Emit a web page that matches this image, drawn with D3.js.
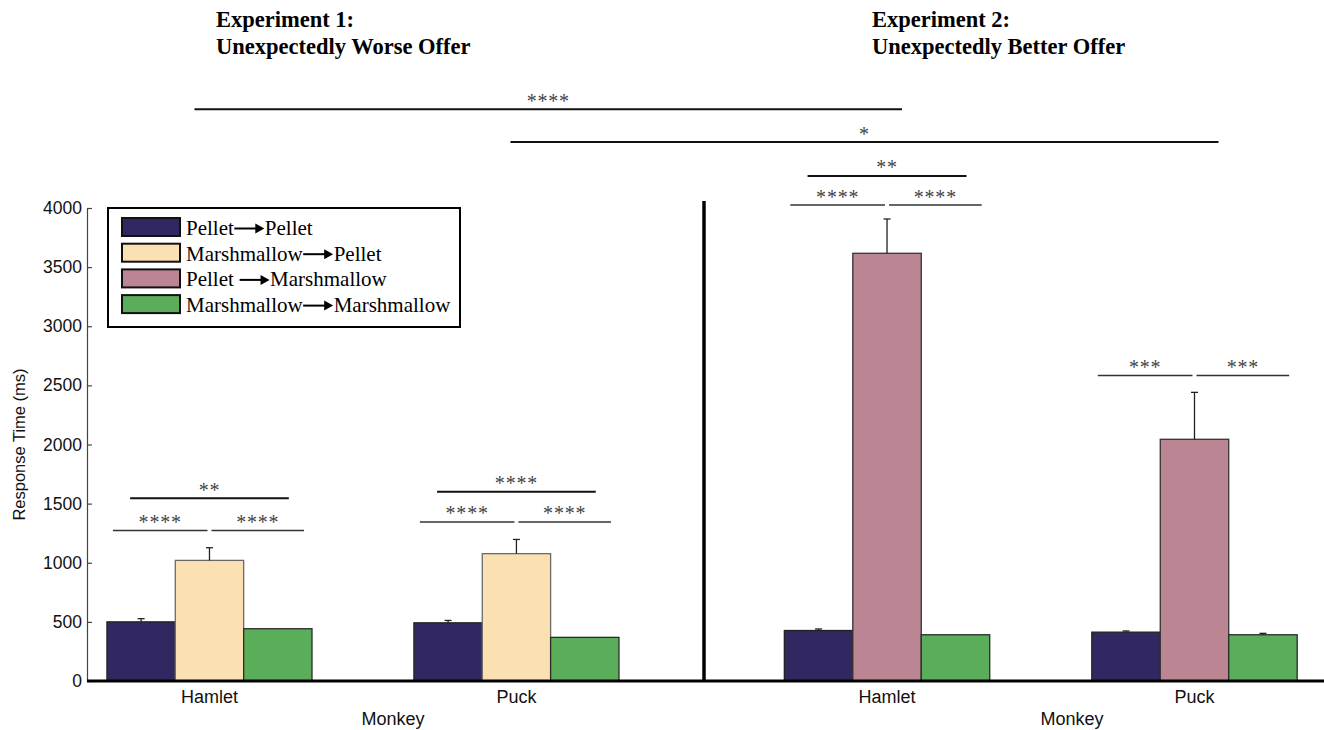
<!DOCTYPE html>
<html>
<head>
<meta charset="utf-8">
<script src="https://cdn.jsdelivr.net/npm/d3@7"></script>
<style>
  html, body { margin: 0; padding: 0; background: #fff; }
  svg { display: block; }
</style>
</head>
<body>
<svg id="chart" width="1324" height="730"></svg>
<script>
// ---------------- DATA ----------------
const monkeys = ["Hamlet", "Puck"];
const exp1Conditions = ["Pellet→Pellet", "Marshmallow→Pellet", "Marshmallow→Marshmallow"];
const exp2Conditions = ["Pellet→Pellet", "Pellet→Marshmallow", "Marshmallow→Marshmallow"];
// mean response time (ms), rows = monkeys, columns = conditions
const exp1Means = [[500, 1020, 442], [492, 1077, 369]];
const exp1SE    = [[27, 107, 0], [20, 120, 0]];
const exp2Means = [[427, 3617, 391], [413, 2044, 391]];
const exp2SE    = [[13, 290, 0], [10, 397, 12]];
const yTicks = [0, 500, 1000, 1500, 2000, 2500, 3000, 3500, 4000];
const legendLabels = [["Pellet", "Pellet"], ["Marshmallow", "Pellet"], ["Pellet ", "Marshmallow"], ["Marshmallow", "Marshmallow"]];
const legendConditions = ["Pellet→Pellet", "Marshmallow→Pellet", "Pellet→Marshmallow", "Marshmallow→Marshmallow"];
const expTitles = [["Experiment 1:", "Unexpectedly Worse Offer"], ["Experiment 2:", "Unexpectedly Better Offer"]];
const xAxisTitle = "Monkey";
const yAxisTitle = "Response Time (ms)";
// significance brackets within a monkey: experiment, monkey, bar a, bar b, level (ms), label
const sigWithin = [
  [0, "Hamlet", 0, 1, 1273, "****"], [0, "Hamlet", 1, 2, 1273, "****"], [0, "Hamlet", 0, 2, 1545, "**"],
  [0, "Puck", 0, 1, 1345, "****"], [0, "Puck", 1, 2, 1345, "****"], [0, "Puck", 0, 2, 1601, "****"],
  [1, "Hamlet", 0, 1, 4025, "****"], [1, "Hamlet", 1, 2, 4025, "****"], [1, "Hamlet", 0, 2, 4271, "**"],
  [1, "Puck", 0, 1, 2583, "***"], [1, "Puck", 1, 2, 2583, "***"]
];
// significance brackets across experiments (same monkey, middle bar): monkey, level, label
const sigAcross = [["Hamlet", 4835, "****"], ["Puck", 4558, "*"]];

// ---------------- STYLE / LAYOUT ----------------
const colors = {
  "Pellet→Pellet": "#312861",
  "Marshmallow→Pellet": "#fbe0b1",
  "Pellet→Marshmallow": "#bc8593",
  "Marshmallow→Marshmallow": "#5aae5a"
};
const strokes = {
  "Pellet→Pellet": "#222",
  "Marshmallow→Pellet": "#6a6a6a",
  "Pellet→Marshmallow": "#333",
  "Marshmallow→Marshmallow": "#2a2a2a"
};
const SANS = "'Liberation Sans', Arial, sans-serif";
const SERIF = "'Liberation Serif', 'Times New Roman', serif";

const svg = d3.select("#chart");
const y = d3.scaleLinear().domain([0, 4000]).range([681, 208]);

const panels = [
  { conds: exp1Conditions, means: exp1Means, se: exp1SE, range: [87, 704], align: 0.19, titleX: 216, monkeyX: 393 },
  { conds: exp2Conditions, means: exp2Means, se: exp2SE, range: [704, 1322], align: 0.764, titleX: 872, monkeyX: 1072 }
];
panels.forEach(p => {
  p.x0 = d3.scaleBand().domain(monkeys).range(p.range).paddingInner(0.332).paddingOuter(0.171).align(p.align);
  p.x1 = d3.scaleBand().domain(d3.range(p.conds.length)).range([0, p.x0.bandwidth()]);
  p.cx = (m, i) => p.x0(m) + p.x1(i) + p.x1.bandwidth() / 2;
  p.left = (m, i) => p.x0(m) + p.x1(i);
  p.right = (m, i) => p.x0(m) + p.x1(i) + p.x1.bandwidth();
});

// ---------------- Y AXIS ----------------
const yAxis = d3.axisLeft(y).tickValues(yTicks).tickFormat(d3.format("d"))
  .tickSizeInner(-5).tickSizeOuter(0).tickPadding(5);
const gy = svg.append("g").attr("transform", "translate(87,0)").call(yAxis);
gy.select(".domain").attr("stroke", "#444").attr("stroke-width", 1.2);
gy.selectAll(".tick line").attr("stroke", "#444").attr("stroke-width", 1.2);
gy.selectAll(".tick text").attr("font-family", SANS).attr("font-size", 17.5).attr("fill", "#111");

svg.append("text")
  .attr("transform", "translate(25,444.5) rotate(-90)")
  .attr("text-anchor", "middle")
  .attr("font-family", SANS).attr("font-size", 16.5).attr("fill", "#111")
  .text(yAxisTitle);

// ---------------- BARS ----------------
panels.forEach((p, pi) => {
  monkeys.forEach((m, mi) => {
    const g = svg.append("g");
    g.selectAll("rect").data(p.conds).join("rect")
      .attr("x", (c, i) => p.left(m, i))
      .attr("y", (c, i) => y(p.means[mi][i]))
      .attr("width", p.x1.bandwidth())
      .attr("height", (c, i) => y(0) - y(p.means[mi][i]))
      .attr("fill", c => colors[c])
      .attr("stroke", c => strokes[c])
      .attr("stroke-width", 1.3);
    // error bars (upper only)
    p.conds.forEach((c, i) => {
      const v = p.means[mi][i], e = p.se[mi][i];
      if (e <= 0) return;
      const cx = p.cx(m, i);
      g.append("line").attr("x1", cx).attr("x2", cx).attr("y1", y(v)).attr("y2", y(v + e))
        .attr("stroke", "#222").attr("stroke-width", 1.3);
      g.append("line").attr("x1", cx - 3.5).attr("x2", cx + 3.5).attr("y1", y(v + e)).attr("y2", y(v + e))
        .attr("stroke", "#222").attr("stroke-width", 1.3);
    });
    // x tick label
    svg.append("text")
      .attr("x", p.x0(m) + p.x0.bandwidth() / 2).attr("y", 703)
      .attr("text-anchor", "middle")
      .attr("font-family", SANS).attr("font-size", 18).attr("fill", "#111")
      .text(m);
  });
  svg.append("text")
    .attr("x", p.monkeyX).attr("y", 725)
    .attr("text-anchor", "middle")
    .attr("font-family", SANS).attr("font-size", 18).attr("fill", "#111")
    .text(xAxisTitle);
  // experiment titles
  const t = svg.append("text").attr("font-family", SERIF).attr("font-size", 22.5)
    .attr("font-weight", "bold").attr("fill", "#000");
  t.append("tspan").attr("x", p.titleX).attr("y", 27).text(expTitles[pi][0]);
  t.append("tspan").attr("x", p.titleX).attr("y", 54).text(expTitles[pi][1]);
});

// baseline & divider
svg.append("line").attr("x1", 87).attr("x2", 1324).attr("y1", y(0)).attr("y2", y(0))
  .attr("stroke", "#000").attr("stroke-width", 3);
svg.append("line").attr("x1", 704).attr("x2", 704).attr("y1", 201).attr("y2", y(0))
  .attr("stroke", "#000").attr("stroke-width", 3.5);

// ---------------- SIGNIFICANCE ----------------
function sigMark(x1, x2, level, label, w, color) {
  const ly = y(level);
  svg.append("line").attr("x1", x1).attr("x2", x2).attr("y1", ly).attr("y2", ly)
    .attr("stroke", color).attr("stroke-width", w);
  svg.append("text").attr("x", (x1 + x2) / 2).attr("y", ly - 1.5)
    .attr("text-anchor", "middle")
    .attr("font-family", SERIF).attr("font-size", 20).attr("fill", "#444")
    .attr("letter-spacing", 0.8)
    .text(label);
}
sigWithin.forEach(([e, m, a, b, level, label]) => {
  const p = panels[e];
  let x1, x2, w = 1.5, col = "#333";
  if (b - a === 2) { x1 = p.cx(m, a) - 11; x2 = p.cx(m, b) + 11; w = 2; col = "#111"; }
  else if (a === 0) { x1 = p.left(m, 0) + 6; x2 = p.cx(m, 1) - 2; }
  else { x1 = p.cx(m, 1) + 2; x2 = p.right(m, 2) - 8; }
  sigMark(x1, x2, level, label, w, col);
});
const acrossPad = { "Hamlet": [-15, 15], "Puck": [-6, 24] };
sigAcross.forEach(([m, level, label]) => {
  const x1 = panels[0].cx(m, 1) + acrossPad[m][0];
  const x2 = panels[1].cx(m, 1) + acrossPad[m][1];
  sigMark(x1, x2, level, label, 1.8, "#111");
});

// ---------------- LEGEND ----------------
const lg = svg.append("g").attr("transform", "translate(108,208)");
lg.append("rect").attr("width", 352).attr("height", 119)
  .attr("fill", "#fff").attr("stroke", "#000").attr("stroke-width", 2);
legendConditions.forEach((c, i) => {
  const row = lg.append("g").attr("transform", `translate(0,${i * 25.7})`);
  row.append("rect").attr("x", 14).attr("y", 10).attr("width", 58).attr("height", 18)
    .attr("fill", colors[c]).attr("stroke", "#111").attr("stroke-width", 2);
  const base = 27;
  const t1 = row.append("text").attr("x", 78).attr("y", base)
    .attr("font-family", SERIF).attr("font-size", 21).attr("fill", "#000")
    .style("white-space", "pre")
    .text(legendLabels[i][0]);
  let xe = 78 + t1.node().getComputedTextLength() + 0.5;
  const ay = base - 6.5;
  row.append("line").attr("x1", xe).attr("x2", xe + 22).attr("y1", ay).attr("y2", ay)
    .attr("stroke", "#000").attr("stroke-width", 2);
  row.append("path").attr("d", `M${xe + 21},${ay - 5}L${xe + 30},${ay}L${xe + 21},${ay + 5}Z`).attr("fill", "#000");
  row.append("text").attr("x", xe + 30.5).attr("y", base)
    .attr("font-family", SERIF).attr("font-size", 21).attr("fill", "#000")
    .text(legendLabels[i][1]);
});
</script>
</body>
</html>
